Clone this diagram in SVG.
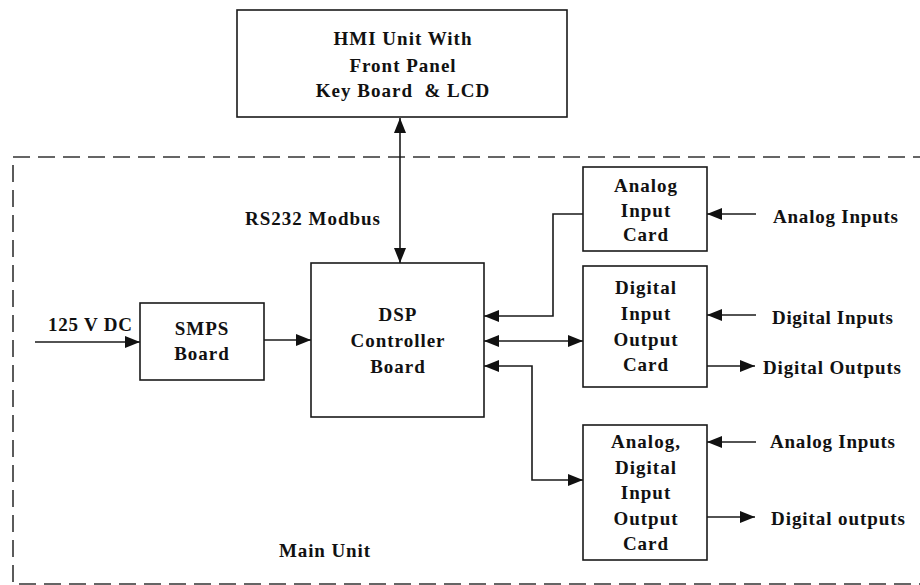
<svg xmlns="http://www.w3.org/2000/svg" width="920" height="585" viewBox="0 0 920 585">
<style>
.box{fill:#fff;stroke:#1a1a1a;stroke-width:1.6}
.ln{fill:none;stroke:#1a1a1a;stroke-width:1.6}
.t{font-family:"Liberation Serif","Times New Roman",serif;font-weight:bold;font-size:19px;fill:#111}
.c{text-anchor:middle;letter-spacing:1px}
</style>
<defs>
<marker id="ah" markerUnits="userSpaceOnUse" markerWidth="16" markerHeight="13" refX="15" refY="6" orient="auto-start-reverse">
<path d="M0,0 L15,6 L0,12 z" fill="#111"/>
</marker>
</defs>
<rect width="920" height="585" fill="#fff"/>
<g id="main-unit">
<path d="M930,157 L13,157 L13,584 L930,584" fill="none" stroke="#333" stroke-width="1.6" stroke-dasharray="17,8"/>
<text class="t" x="279" y="557" textLength="91" lengthAdjust="spacing">Main Unit</text>
</g>
<g id="connectors">
<line class="ln" x1="400" y1="118" x2="400" y2="263" marker-start="url(#ah)" marker-end="url(#ah)"/>
<line class="ln" x1="35" y1="342" x2="140" y2="342" marker-end="url(#ah)"/>
<line class="ln" x1="264" y1="340" x2="311" y2="340" marker-end="url(#ah)"/>
<polyline class="ln" points="583,214 553,214 553,316 484,316" marker-end="url(#ah)"/>
<line class="ln" x1="484" y1="341" x2="583" y2="341" marker-start="url(#ah)" marker-end="url(#ah)"/>
<polyline class="ln" points="484,366 532,366 532,480 583,480" marker-start="url(#ah)" marker-end="url(#ah)"/>
<line class="ln" x1="756" y1="214" x2="707" y2="214" marker-end="url(#ah)"/>
<line class="ln" x1="756" y1="315" x2="707" y2="315" marker-end="url(#ah)"/>
<line class="ln" x1="707" y1="366" x2="755" y2="366" marker-end="url(#ah)"/>
<line class="ln" x1="756" y1="442" x2="707" y2="442" marker-end="url(#ah)"/>
<line class="ln" x1="707" y1="517" x2="755" y2="517" marker-end="url(#ah)"/>
<text class="t" x="245" y="225" textLength="135" lengthAdjust="spacing">RS232 Modbus</text>
<text class="t" x="48" y="331" textLength="84" lengthAdjust="spacing">125 V DC</text>
</g>
<g id="hmi">
<rect class="box" x="237" y="10" width="330" height="107"/>
<text class="t c" x="403" y="45">HMI Unit With</text>
<text class="t c" x="403" y="72">Front Panel</text>
<text class="t c" x="403" y="97" xml:space="preserve">Key Board  &amp; LCD</text>
</g>
<g id="smps">
<rect class="box" x="140" y="303" width="124" height="77"/>
<text class="t c" x="202" y="335">SMPS</text>
<text class="t c" x="202" y="360">Board</text>
</g>
<g id="dsp">
<rect class="box" x="311" y="263" width="173" height="154"/>
<text class="t c" x="398" y="321">DSP</text>
<text class="t c" x="398" y="347">Controller</text>
<text class="t c" x="398" y="373">Board</text>
</g>
<g id="analog-input-card">
<rect class="box" x="583" y="167" width="124" height="84"/>
<text class="t c" x="646" y="192">Analog</text>
<text class="t c" x="646" y="217">Input</text>
<text class="t c" x="646" y="241">Card</text>
</g>
<g id="digital-io-card">
<rect class="box" x="583" y="266" width="124" height="121"/>
<text class="t c" x="646" y="294">Digital</text>
<text class="t c" x="646" y="320">Input</text>
<text class="t c" x="646" y="346">Output</text>
<text class="t c" x="646" y="371">Card</text>
</g>
<g id="analog-digital-io-card">
<rect class="box" x="583" y="425" width="124" height="135"/>
<text class="t c" x="646" y="448">Analog,</text>
<text class="t c" x="646" y="474">Digital</text>
<text class="t c" x="646" y="499">Input</text>
<text class="t c" x="646" y="525">Output</text>
<text class="t c" x="646" y="550">Card</text>
</g>
<g id="io-labels">
<text class="t" x="773" y="223" textLength="125" lengthAdjust="spacing">Analog Inputs</text>
<text class="t" x="772" y="324" textLength="121" lengthAdjust="spacing">Digital Inputs</text>
<text class="t" x="763" y="374" textLength="138" lengthAdjust="spacing">Digital Outputs</text>
<text class="t" x="770" y="448" textLength="125" lengthAdjust="spacing">Analog Inputs</text>
<text class="t" x="771" y="525" textLength="134" lengthAdjust="spacing">Digital outputs</text>
</g>
</svg>
